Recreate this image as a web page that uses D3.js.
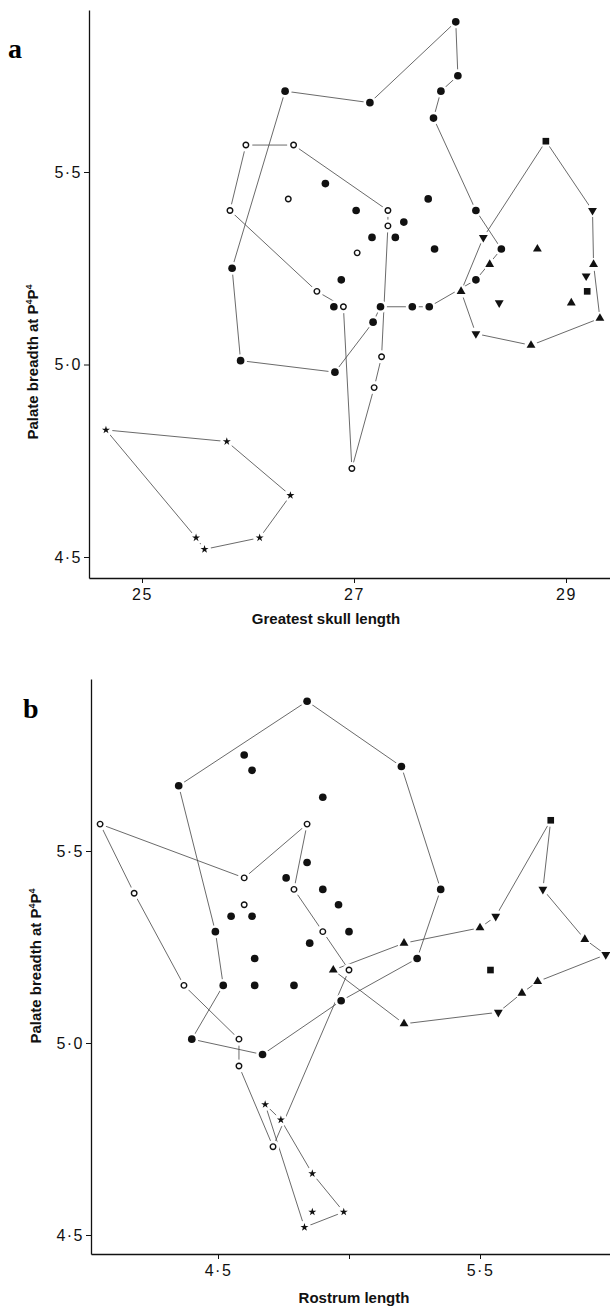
<!doctype html>
<html lang="en">
<head>
<meta charset="utf-8">
<title>Palate breadth scatter</title>
<script src="https://d3js.org/d3.v7.min.js"></script>
<style>
  body { margin: 0; background: #fff; }
  svg { display: block; }
  .tick text { font-family: "Liberation Sans", Arial, sans-serif; font-size: 16px; letter-spacing: 1.5px; fill: #111; }
  .title { font-family: "Liberation Sans", Arial, sans-serif; font-weight: bold; font-size: 15px; fill: #111; }
  .panel { font-family: "Liberation Serif", "Times New Roman", serif; font-weight: bold; font-size: 28px; fill: #000; }
</style>
</head>
<body>
<svg id="chart" width="610" height="1308"></svg>
<script>
// panel a: greatest skull length vs palate breadth
var skullFilledHull = [[26.35,5.71],[27.15,5.68],[27.96,5.89],[27.98,5.75],[27.82,5.71],[27.75,5.64],[28.15,5.40],[28.39,5.30],[28.15,5.22],[27.71,5.15],[27.55,5.15],[27.25,5.15],[27.18,5.11],[26.82,4.98],[25.93,5.01],[25.85,5.25]];
var skullFilledInner = [[26.73,5.47],[27.70,5.43],[27.02,5.40],[27.47,5.37],[27.17,5.33],[27.39,5.33],[27.76,5.30],[26.88,5.22],[26.81,5.15]];
var skullOpenHull = [[25.98,5.57],[26.43,5.57],[27.32,5.40],[27.32,5.36],[27.26,5.02],[27.19,4.94],[26.98,4.73],[26.90,5.15],[26.65,5.19],[25.83,5.40]];
var skullOpenInner = [[26.38,5.43],[27.03,5.29]];
var skullRightHull = [[28.81,5.58,"sq"],[29.25,5.40,"dn"],[29.26,5.26,"up"],[29.32,5.12,"up"],[28.67,5.05,"up"],[28.15,5.08,"dn"],[28.01,5.19,"up"],[28.22,5.33,"dn"]];
var skullRightInner = [[28.73,5.30,"up"],[28.28,5.26,"up"],[29.19,5.23,"dn"],[29.20,5.19,"sq"],[28.37,5.16,"dn"],[29.05,5.16,"up"]];
var skullStarHull = [[24.66,4.83],[25.80,4.80],[26.40,4.66],[26.11,4.55],[25.59,4.52],[25.51,4.55]];
var skullTicks = [25, 27, 29];

// panel b: rostrum length vs palate breadth
var rostFilledHull = [[4.84,5.89],[5.20,5.72],[5.35,5.40],[5.26,5.22],[4.97,5.11],[4.67,4.97],[4.40,5.01],[4.52,5.15],[4.49,5.29],[4.35,5.67]];
var rostFilledInner = [[4.60,5.75],[4.63,5.71],[4.90,5.64],[4.84,5.47],[4.76,5.43],[4.90,5.40],[4.96,5.36],[4.55,5.33],[4.63,5.33],[5.00,5.29],[4.85,5.26],[4.64,5.22],[4.64,5.15],[4.79,5.15]];
var rostOpenHull = [[4.05,5.57],[4.60,5.43],[4.84,5.57],[4.79,5.40],[4.90,5.29],[5.00,5.19],[4.71,4.73],[4.58,4.94],[4.58,5.01],[4.37,5.15],[4.18,5.39]];
var rostOpenInner = [[4.60,5.36]];
var rostRightHull = [[5.77,5.58,"sq"],[5.74,5.40,"dn"],[5.90,5.27,"up"],[5.98,5.23,"dn"],[5.72,5.16,"up"],[5.66,5.13,"up"],[5.57,5.08,"dn"],[5.21,5.05,"up"],[4.94,5.19,"up"],[5.21,5.26,"up"],[5.50,5.30,"up"],[5.56,5.33,"dn"]];
var rostRightInner = [[5.54,5.19,"sq"]];
var rostStarHull = [[4.68,4.84],[4.74,4.80],[4.86,4.66],[4.98,4.56],[4.83,4.52]];
var rostStarInner = [[4.86,4.56]];
var rostTicks = [4.5, 5.0, 5.5];
var rostTickLabels = ["4·5", "", "5·5"];

var yTicks = [4.5, 5.0, 5.5];

var svg = d3.select("#chart");

function dotFmt(d) { return d3.format(".1f")(d).replace(".", "·"); }

function drawPanel(p) {
  var g = svg.append("g");
  var x = d3.scaleLinear().domain(p.xd).range(p.xr);
  x.domain([x.invert(p.left), x.invert(610)]).range([p.left, 610]);
  var y = d3.scaleLinear().domain([4.5, 5.5]).range(p.yr);
  y.domain([y.invert(p.bottom), y.invert(p.top)]).range([p.bottom, p.top]);

  g.append("g").attr("transform", "translate(" + p.left + ",0)")
    .call(d3.axisLeft(y).tickValues(yTicks).tickFormat(dotFmt).tickSize(5).tickSizeOuter(0).tickPadding(2));
  g.append("g").attr("transform", "translate(0," + p.bottom + ")")
    .call(d3.axisBottom(x).tickValues(p.xTicks).tickFormat(p.xFmt).tickSize(5).tickSizeOuter(0).tickPadding(6));
  g.selectAll(".domain").attr("stroke", "#111").attr("stroke-width", 1.3);
  g.selectAll(".tick line").attr("stroke", "#111");

  var line = d3.line().x(function(d) { return x(d[0]); }).y(function(d) { return y(d[1]); }).curve(d3.curveLinearClosed);
  g.selectAll("path.hull").data(p.hulls).enter().append("path").attr("class", "hull")
    .attr("d", line).attr("fill", "none").attr("stroke", "#444").attr("stroke-width", 0.8);

  var pts = [];
  p.filled.forEach(function(d) { pts.push([d[0], d[1], "fill"]); });
  p.open.forEach(function(d) { pts.push([d[0], d[1], "open"]); });
  p.stars.forEach(function(d) { pts.push([d[0], d[1], "star"]); });
  p.right.forEach(function(d) { pts.push(d); });

  // white halo that breaks the hull lines round each mark
  g.selectAll("circle.halo").data(pts).enter().append("circle").attr("class", "halo")
    .attr("cx", function(d) { return x(d[0]); }).attr("cy", function(d) { return y(d[1]); })
    .attr("r", 6.5).attr("fill", "#fff");

  var sym = {
    fill: d3.symbol().type(d3.symbolCircle).size(46),
    open: d3.symbol().type(d3.symbolCircle).size(24),
    star: d3.symbol().type(d3.symbolStar).size(20),
    up: d3.symbol().type(d3.symbolTriangle).size(34),
    dn: d3.symbol().type(d3.symbolTriangle).size(34),
    sq: d3.symbol().type(d3.symbolSquare).size(44)
  };
  g.selectAll("path.mark").data(pts).enter().append("path").attr("class", "mark")
    .attr("d", function(d) { return sym[d[2]](); })
    .attr("transform", function(d) { return "translate(" + x(d[0]) + "," + y(d[1]) + ")" + (d[2] == "dn" ? " rotate(180)" : ""); })
    .attr("fill", function(d) { return d[2] == "open" ? "#fff" : "#111"; })
    .attr("stroke", function(d) { return d[2] == "open" ? "#111" : "none"; })
    .attr("stroke-width", 1.4);

  g.append("text").attr("class", "title").attr("x", p.titleX).attr("y", p.titleY)
    .attr("text-anchor", "middle").text(p.title);

  var yl = g.append("text").attr("class", "title").attr("text-anchor", "middle")
    .attr("transform", "translate(" + p.ylabX + "," + p.ylabY + ") rotate(-90)");
  yl.append("tspan").text("Palate breadth at P");
  yl.append("tspan").attr("dy", -6).style("font-size", "9px").text("4");
  yl.append("tspan").attr("dy", 6).text("P");
  yl.append("tspan").attr("dy", -6).style("font-size", "9px").text("4");

  g.append("text").attr("class", "panel").attr("x", p.tagX).attr("y", p.tagY).text(p.tag);
}

drawPanel({
  tag: "a", tagX: 8, tagY: 58,
  xd: [25, 29], xr: [142, 566], yr: [557, 172],
  left: 89, bottom: 578, top: 10,
  xTicks: skullTicks, xFmt: function(d) { return String(d); },
  hulls: [skullFilledHull, skullOpenHull, skullRightHull, skullStarHull],
  filled: skullFilledHull.concat(skullFilledInner),
  open: skullOpenHull.concat(skullOpenInner),
  stars: skullStarHull,
  right: skullRightHull.concat(skullRightInner),
  title: "Greatest skull length", titleX: 326, titleY: 624,
  ylabX: 38, ylabY: 362
});

drawPanel({
  tag: "b", tagX: 23, tagY: 718,
  xd: [4.5, 5.5], xr: [218, 480], yr: [1235, 851],
  left: 91, bottom: 1254, top: 679,
  xTicks: rostTicks, xFmt: function(d, i) { return rostTickLabels[i]; },
  hulls: [rostFilledHull, rostOpenHull, rostRightHull, rostStarHull],
  filled: rostFilledHull.concat(rostFilledInner),
  open: rostOpenHull.concat(rostOpenInner),
  stars: rostStarHull.concat(rostStarInner),
  right: rostRightHull.concat(rostRightInner),
  title: "Rostrum length", titleX: 354, titleY: 1303,
  ylabX: 41, ylabY: 966
});
</script>
</body>
</html>
